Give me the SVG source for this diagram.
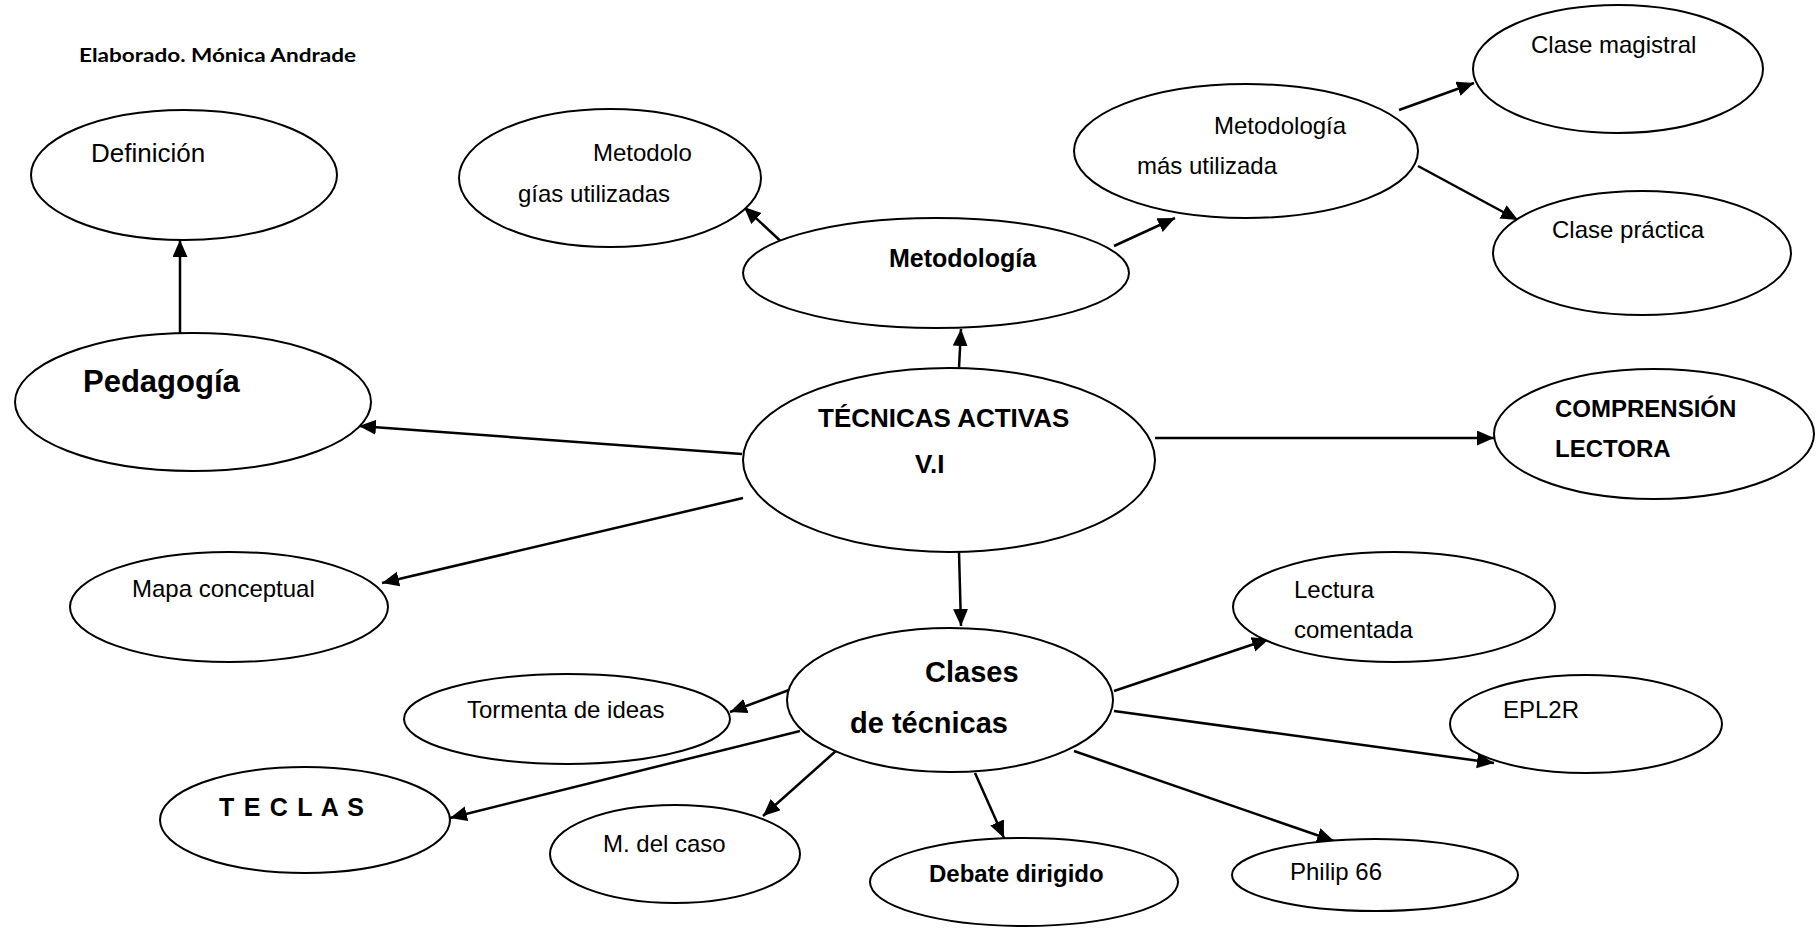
<svg xmlns="http://www.w3.org/2000/svg" width="1820" height="929" viewBox="0 0 1820 929">
<style>
.n ellipse{fill:#fff;stroke:#000;stroke-width:2}
text{font-family:"Liberation Sans",Arial,sans-serif;font-size:24px;fill:#000}
.b{font-weight:bold}
#edges line{stroke:#000;stroke-width:2.5;marker-end:url(#ah)}
</style>
<defs>
<marker id="ah" markerUnits="userSpaceOnUse" markerWidth="18" markerHeight="16" refX="17" refY="7.5" orient="auto">
<path d="M0,0 L17,7.5 L0,15 z" fill="#000"/>
</marker>
</defs>
<rect width="1820" height="929" fill="#fff"/>
<text x="79" y="62" style="font-family:Lato,'Open Sans',sans-serif;font-size:19px;font-weight:bold" textLength="277" lengthAdjust="spacingAndGlyphs">Elaborado. Mónica Andrade</text>

<g id="edges">
<line x1="180" y1="333" x2="180" y2="240"/>
<line x1="742" y1="454" x2="359" y2="426"/>
<line x1="959" y1="368" x2="961" y2="329"/>
<line x1="788" y1="248" x2="744" y2="207"/>
<line x1="1114" y1="246" x2="1175" y2="218"/>
<line x1="1399" y1="110" x2="1474" y2="83"/>
<line x1="1418" y1="166" x2="1518" y2="220"/>
<line x1="1155" y1="438" x2="1494" y2="438"/>
<line x1="743" y1="498" x2="382" y2="583"/>
<line x1="959" y1="552" x2="961" y2="626"/>
<line x1="789" y1="690" x2="730" y2="712"/>
<line x1="800" y1="731" x2="450" y2="818"/>
<line x1="837" y1="750" x2="763" y2="816"/>
<line x1="975" y1="773" x2="1004" y2="838"/>
<line x1="1074" y1="751" x2="1334" y2="841"/>
<line x1="1114" y1="711" x2="1494" y2="763"/>
<line x1="1114" y1="691" x2="1269" y2="639"/>
</g>

<g id="definicion" class="n"><ellipse cx="184" cy="175" rx="153" ry="65"/><text x="91" y="162" style="font-size:26px">Definición</text></g>
<g id="pedagogia" class="n"><ellipse cx="193" cy="402" rx="178" ry="69"/><text class="b" x="83" y="392" style="font-size:31px">Pedagogía</text></g>
<g id="metodologias-utilizadas" class="n"><ellipse cx="610" cy="178" rx="151" ry="69"/><text x="593" y="161">Metodolo</text><text x="518" y="202">gías utilizadas</text></g>
<g id="metodologia" class="n"><ellipse cx="936" cy="273" rx="193" ry="55"/><text class="b" x="889" y="267" style="font-size:25px">Metodología</text></g>
<g id="metodologia-mas-utilizada" class="n"><ellipse cx="1246" cy="151" rx="172" ry="67"/><text x="1214" y="134">Metodología</text><text x="1137" y="174">más utilizada</text></g>
<g id="clase-magistral" class="n"><ellipse cx="1618" cy="69" rx="145" ry="64"/><text x="1531" y="53">Clase magistral</text></g>
<g id="clase-practica" class="n"><ellipse cx="1642" cy="253" rx="149" ry="62"/><text x="1552" y="238">Clase práctica</text></g>
<g id="tecnicas-activas" class="n"><ellipse cx="949" cy="460" rx="206" ry="92"/><text class="b" x="818" y="427" style="font-size:26px">TÉCNICAS ACTIVAS</text><text class="b" x="915" y="473" style="font-size:26px">V.I</text></g>
<g id="comprension-lectora" class="n"><ellipse cx="1654" cy="434" rx="160" ry="65"/><text class="b" x="1555" y="417">COMPRENSIÓN</text><text class="b" x="1555" y="457">LECTORA</text></g>
<g id="mapa-conceptual" class="n"><ellipse cx="229" cy="607" rx="159" ry="55"/><text x="132" y="597">Mapa conceptual</text></g>
<g id="clases-de-tecnicas" class="n"><ellipse cx="950" cy="700" rx="163" ry="72"/><text class="b" x="925" y="682" style="font-size:29px">Clases</text><text class="b" x="850" y="733" style="font-size:29px">de técnicas</text></g>
<g id="tormenta" class="n"><ellipse cx="567" cy="719" rx="163" ry="45"/><text x="467" y="718">Tormenta de ideas</text></g>
<g id="teclas" class="n"><ellipse cx="305" cy="820" rx="145" ry="53"/><text class="b" x="219" y="816" textLength="145" style="font-size:25px">T E C L A S</text></g>
<g id="m-del-caso" class="n"><ellipse cx="675" cy="854" rx="125" ry="49"/><text x="603" y="852">M. del caso</text></g>
<g id="debate-dirigido" class="n"><ellipse cx="1024" cy="882" rx="154" ry="44"/><text class="b" x="929" y="882">Debate dirigido</text></g>
<g id="philip-66" class="n"><ellipse cx="1375" cy="875" rx="143" ry="36"/><text x="1290" y="880">Philip 66</text></g>
<g id="epl2r" class="n"><ellipse cx="1586" cy="724" rx="136" ry="49"/><text x="1503" y="718">EPL2R</text></g>
<g id="lectura-comentada" class="n"><ellipse cx="1394" cy="607" rx="161" ry="55"/><text x="1294" y="598">Lectura</text><text x="1294" y="638">comentada</text></g>
</svg>
